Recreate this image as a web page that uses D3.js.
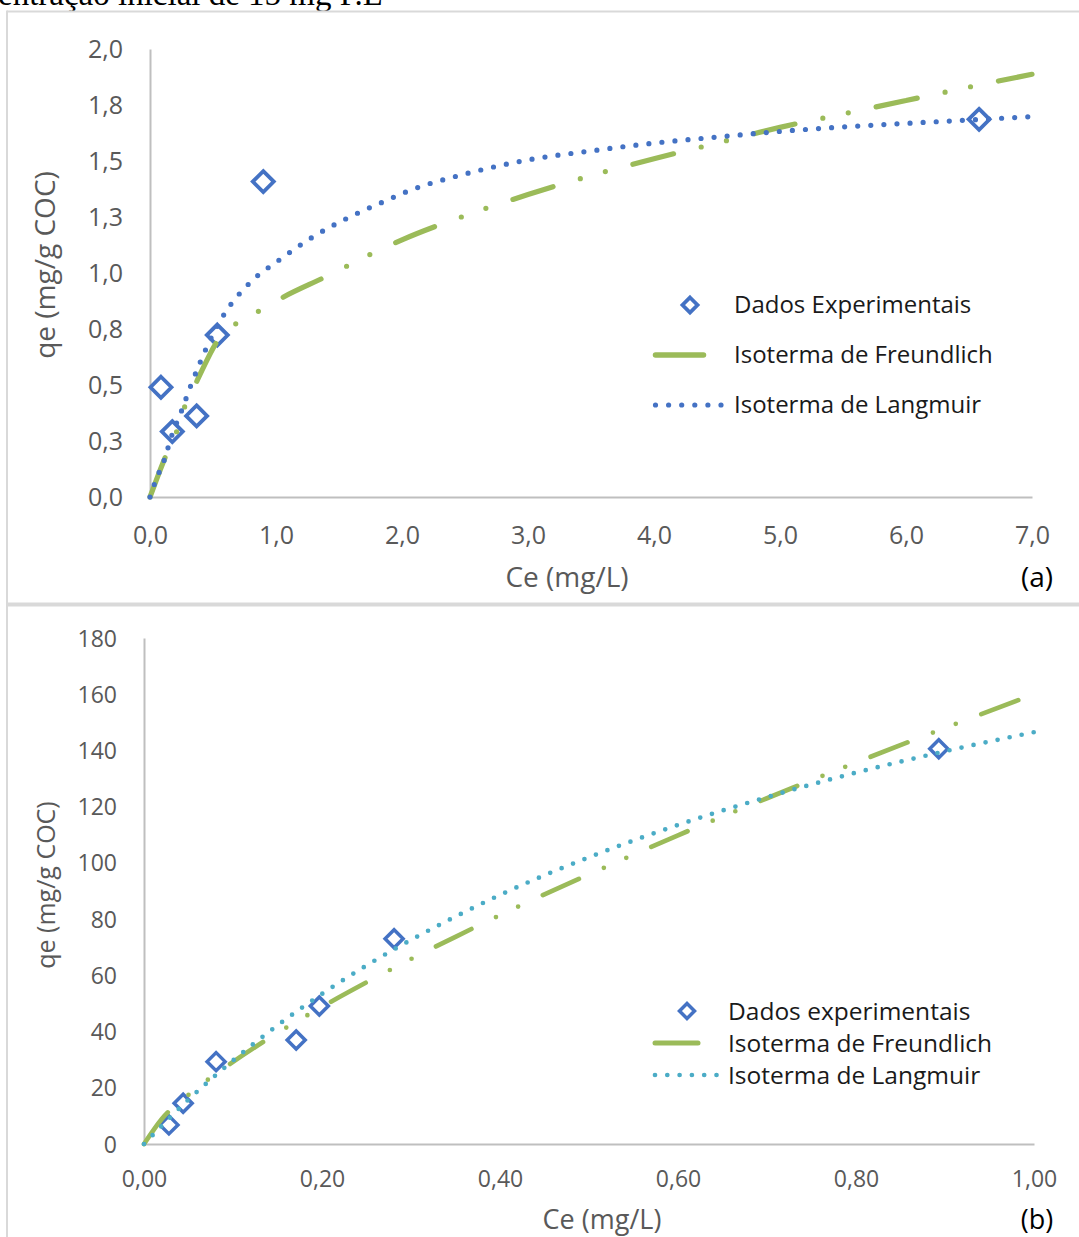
<!DOCTYPE html>
<html>
<head>
<meta charset="utf-8">
<script src="https://cdn.jsdelivr.net/npm/d3@7"></script>
<style>
  body { margin: 0; background: #fff; }
  svg { display: block; }
  text { font-family: "Open Sans", "Noto Sans", sans-serif; }
</style>
</head>
<body>
<svg id="fig" width="1079" height="1237"></svg>
<script>
// ---- Panel (a): experimental data and fitted isotherms ----
const aExpCe = [0.087, 0.177, 0.37, 0.534, 0.899, 6.58];
const aExpQe = [0.49, 0.292, 0.362, 0.723, 1.408, 1.686];

const aFreundCe = [0, 0.13, 0.21, 0.28, 0.37, 0.54, 0.69, 0.88, 1.06, 1.39, 1.77, 2.0, 2.5, 3.0, 3.5, 4.0, 4.5, 5.0, 5.5, 6.0, 6.5, 7.0];
const aFreundQe = [0, 0.19, 0.29, 0.41, 0.515, 0.70, 0.777, 0.835, 0.893, 0.982, 1.089, 1.148, 1.256, 1.35, 1.435, 1.51, 1.58, 1.65, 1.71, 1.77, 1.83, 1.887];

const aLangCe = [0, 0.03, 0.07, 0.11, 0.17, 0.25, 0.32, 0.40, 0.44, 0.59, 0.79, 1.03, 1.29, 1.57, 1.86, 2.05, 2.5, 3.0, 3.5, 4.0, 4.5, 5.0, 5.5, 6.0, 6.5, 7.0];
const aLangQe = [0, 0.05, 0.107, 0.16, 0.27, 0.384, 0.492, 0.604, 0.656, 0.817, 0.955, 1.06, 1.16, 1.246, 1.32, 1.366, 1.442, 1.505, 1.545, 1.58, 1.607, 1.632, 1.652, 1.668, 1.683, 1.698];

const aYTicks = [0, 0.25, 0.5, 0.75, 1.0, 1.25, 1.5, 1.75, 2.0];
const aYTickLabels = ["0,0", "0,3", "0,5", "0,8", "1,0", "1,3", "1,5", "1,8", "2,0"];
const aXTicks = [0, 1, 2, 3, 4, 5, 6, 7];
const aXTickLabels = ["0,0", "1,0", "2,0", "3,0", "4,0", "5,0", "6,0", "7,0"];
const aLegend = ["Dados Experimentais", "Isoterma de Freundlich", "Isoterma de Langmuir"];

// ---- Panel (b) ----
const bExpCe = [0.028, 0.044, 0.081, 0.171, 0.197, 0.281, 0.893];
const bExpQe = [6.8, 14.5, 29.3, 37.0, 49.1, 73.0, 140.6];

const bFreundCe = [0, 0.02, 0.05, 0.1, 0.15, 0.2, 0.25, 0.3, 0.35, 0.4, 0.45, 0.5, 0.6, 0.7, 0.8, 0.9, 1.0];
const bFreundQe = [0, 8.9, 17.5, 29.2, 39.5, 48.8, 57.5, 65.8, 73.7, 81.4, 88.8, 95.9, 109.8, 123.0, 135.7, 148.0, 160.0];

const bLangCe = [0, 0.05, 0.1, 0.15, 0.2, 0.25, 0.3, 0.35, 0.4, 0.45, 0.5, 0.6, 0.7, 0.8, 0.9, 1.0];
const bLangQe = [0, 15.8, 29.7, 42.2, 53.4, 63.5, 72.6, 80.9, 88.6, 95.6, 102.0, 113.5, 123.4, 132.1, 139.7, 146.5];

const bYTicks = [0, 20, 40, 60, 80, 100, 120, 140, 160, 180];
const bYTickLabels = ["0", "20", "40", "60", "80", "100", "120", "140", "160", "180"];
const bXTicks = [0, 0.2, 0.4, 0.6, 0.8, 1.0];
const bXTickLabels = ["0,00", "0,20", "0,40", "0,60", "0,80", "1,00"];
const bLegend = ["Dados experimentais", "Isoterma de Freundlich", "Isoterma de Langmuir"];

const xTitle = "Ce (mg/L)";
const yTitle = "qe (mg/g COC)";

const GREEN = "#9bbb59";
const BLUE = "#4472c4";
const CYAN = "#4bacc6";
const AXIS = "#bfbfbf";
const LABEL = "#595959";

const svg = d3.select("#fig");

// Caption line running past the top edge of the page
svg.append("text")
  .attr("x", -2).attr("y", 5)
  .style("font-family", "'Liberation Serif', 'Times New Roman', serif")
  .style("font-size", "33px")
  .attr("fill", "#000")
  .text("entração inicial de 15 mg P.L");

// Chart frames
svg.append("rect").attr("x", 7).attr("y", 10.5).attr("width", 1080).attr("height", 2).attr("fill", "#d9d9d9");
svg.append("rect").attr("x", 6).attr("y", 10.5).attr("width", 2).attr("height", 1230).attr("fill", "#d9d9d9");
svg.append("rect").attr("x", 7).attr("y", 602.5).attr("width", 1080).attr("height", 4).attr("fill", "#d9d9d9");

function diamond(sel, cx, cy, r, sw) {
  sel.append("path")
    .attr("d", `M${cx},${cy - r}L${cx + r},${cy}L${cx},${cy + r}L${cx - r},${cy}Z`)
    .attr("fill", "#fff")
    .attr("stroke", BLUE)
    .attr("stroke-width", sw);
}

function drawPanel(p) {
  const g = svg.append("g");
  const x = d3.scaleLinear().domain(p.xDomain).range([p.left, p.right]);
  const y = d3.scaleLinear().domain(p.yDomain).range([p.bottom, p.top]);

  // axes
  const yAxis = d3.axisLeft(y).tickValues(p.yTicks)
    .tickFormat((d, i) => p.yTickLabels[i]).tickSize(0).tickPadding(p.left - p.yLabelRight);
  const xAxis = d3.axisBottom(x).tickValues(p.xTicks)
    .tickFormat((d, i) => p.xTickLabels[i]).tickSize(0).tickPadding(p.xLabelPad);

  const ya = g.append("g").attr("transform", `translate(${p.left},0)`).call(yAxis);
  const xa = g.append("g").attr("transform", `translate(0,${p.bottom})`).call(xAxis);
  [ya, xa].forEach(a => {
    a.select(".domain").attr("stroke", AXIS).attr("stroke-width", 2);
    a.selectAll("text").attr("fill", LABEL).style("font-size", p.tickFont + "px")
      .style("font-family", "'Open Sans', sans-serif");
  });
  ya.selectAll("text").attr("dy", "0.35em");
  xa.selectAll("text").attr("dy", "0.71em");

  // titles
  g.append("text").attr("x", p.xTitleX).attr("y", p.xTitleY)
    .attr("text-anchor", "middle").attr("fill", LABEL)
    .style("font-size", p.xTitleFont + "px").text(xTitle);
  g.append("text")
    .attr("transform", `translate(${p.yTitleX},${p.yTitleY}) rotate(-90)`)
    .attr("text-anchor", "middle").attr("fill", LABEL)
    .style("font-size", p.yTitleFont + "px").text(yTitle);
  g.append("text").attr("x", p.tagX).attr("y", p.xTitleY)
    .attr("text-anchor", "middle").attr("fill", "#000")
    .style("font-size", p.xTitleFont + "px").text(p.tag);

  // experimental points
  const pts = g.append("g");
  p.expCe.forEach((c, i) => diamond(pts, x(c), y(p.expQe[i]), p.markR, p.markW));

  // fitted isotherms
  const line = d3.line().x(d => x(d[0])).y(d => y(d[1])).curve(d3.curveMonotoneX);
  g.append("path")
    .datum(p.freundCe.map((c, i) => [c, p.freundQe[i]]))
    .attr("d", line).attr("fill", "none")
    .attr("stroke", GREEN).attr("stroke-width", p.lineW)
    .attr("stroke-linecap", "round").attr("stroke-linejoin", "round")
    .attr("stroke-dasharray", p.freundDash);
  g.append("path")
    .datum(p.langCe.map((c, i) => [c, p.langQe[i]]))
    .attr("d", line).attr("fill", "none")
    .attr("stroke", p.langColor).attr("stroke-width", p.lineW)
    .attr("stroke-linecap", "round")
    .attr("stroke-dasharray", p.langDash);

  // legend
  const lg = g.append("g");
  diamond(lg, p.legSymX, p.legY[0], p.legMarkR, p.markW);
  lg.append("line").attr("x1", p.legLineX0).attr("x2", p.legLineX1)
    .attr("y1", p.legY[1]).attr("y2", p.legY[1])
    .attr("stroke", GREEN).attr("stroke-width", p.lineW + 0.3).attr("stroke-linecap", "round");
  lg.append("line").attr("x1", p.legLineX0).attr("x2", p.legDotX1)
    .attr("y1", p.legY[2]).attr("y2", p.legY[2])
    .attr("stroke", p.langColor).attr("stroke-width", p.lineW)
    .attr("stroke-linecap", "round").attr("stroke-dasharray", p.langDash);
  p.legend.forEach((t, i) => {
    lg.append("text").attr("x", p.legTextX).attr("y", p.legY[i]).attr("dy", "0.35em")
      .attr("fill", "#1a1a1a").style("font-size", p.legFont + "px").text(t);
  });
}

drawPanel({
  xDomain: [0, 7], yDomain: [0, 2],
  left: 150, right: 1032, top: 49, bottom: 497,
  yTicks: aYTicks, yTickLabels: aYTickLabels, xTicks: aXTicks, xTickLabels: aXTickLabels,
  yLabelRight: 123, xLabelPad: 29, tickFont: 25,
  xTitleX: 567, xTitleY: 587, xTitleFont: 28, yTitleX: 55, yTitleY: 265, yTitleFont: 28,
  tag: "(a)", tagX: 1037,
  expCe: aExpCe, expQe: aExpQe, freundCe: aFreundCe, freundQe: aFreundQe,
  langCe: aLangCe, langQe: aLangQe,
  markR: 10.5, markW: 3.8, lineW: 5.2,
  freundDash: "42 28.5 0 26 0 28.5", langDash: "0 13.1", langColor: BLUE,
  legend: aLegend, legY: [305, 355, 405], legSymX: 690, legMarkR: 7.5,
  legLineX0: 655.5, legLineX1: 703.5, legDotX1: 722, legTextX: 734, legFont: 24
});

drawPanel({
  xDomain: [0, 1], yDomain: [0, 180],
  left: 144, right: 1034, top: 638, bottom: 1144,
  yTicks: bYTicks, yTickLabels: bYTickLabels, xTicks: bXTicks, xTickLabels: bXTickLabels,
  yLabelRight: 117, xLabelPad: 27, tickFont: 23,
  xTitleX: 602, xTitleY: 1229, xTitleFont: 27, yTitleX: 55, yTitleY: 885, yTitleFont: 25,
  tag: "(b)", tagX: 1037,
  expCe: bExpCe, expQe: bExpQe, freundCe: bFreundCe, freundQe: bFreundQe,
  langCe: bLangCe, langQe: bLangQe,
  markR: 9, markW: 3.5, lineW: 4.7,
  freundDash: "39.5 27.3 0 24.5 0 27.3", langDash: "0 12.3", langColor: CYAN,
  legend: bLegend, legY: [1011, 1043, 1075], legSymX: 687, legMarkR: 7.5,
  legLineX0: 655, legLineX1: 698, legDotX1: 717, legTextX: 728, legFont: 24.5
});
</script>
</body>
</html>
